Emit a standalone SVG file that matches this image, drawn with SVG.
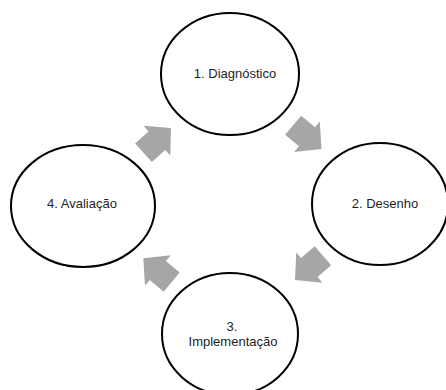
<svg xmlns="http://www.w3.org/2000/svg" width="446" height="390" viewBox="0 0 446 390">
<defs>
<style>
.node ellipse{fill:#fff;stroke:#000;stroke-width:2}
.node text{font-family:"Liberation Sans",Arial,sans-serif;font-size:13px;fill:#1e1e1e;text-anchor:middle}
.arrow{fill:#a6a6a6}
</style>
<path id="blk" d="M0,0 L-19,-20 L-19,-12.5 L-37,-12.5 L-37,12.5 L-19,12.5 L-19,20 Z"/>
</defs>
<rect width="446" height="390" fill="#fff"/>
<g id="connectors">
<use href="#blk" class="arrow" transform="translate(171,128) rotate(-42)"/>
<use href="#blk" class="arrow" transform="translate(321.5,149) rotate(40)"/>
<use href="#blk" class="arrow" transform="translate(295,280) rotate(139)"/>
<use href="#blk" class="arrow" transform="translate(143.3,258.3) rotate(-140)"/>
</g>
<g id="n1" class="node">
<ellipse cx="230" cy="74" rx="69" ry="61"/>
<text x="235" y="77.5">1. Diagnóstico</text>
</g>
<g id="n2" class="node">
<ellipse cx="380" cy="204" rx="68" ry="61"/>
<text x="385" y="208">2. Desenho</text>
</g>
<g id="n3" class="node">
<ellipse cx="230" cy="334" rx="68" ry="61"/>
<text x="232" y="330.5">3.</text>
<text x="233" y="345.5">Implementação</text>
</g>
<g id="n4" class="node">
<ellipse cx="83" cy="206" rx="72" ry="61"/>
<text x="82" y="208">4. Avaliação</text>
</g>
</svg>
